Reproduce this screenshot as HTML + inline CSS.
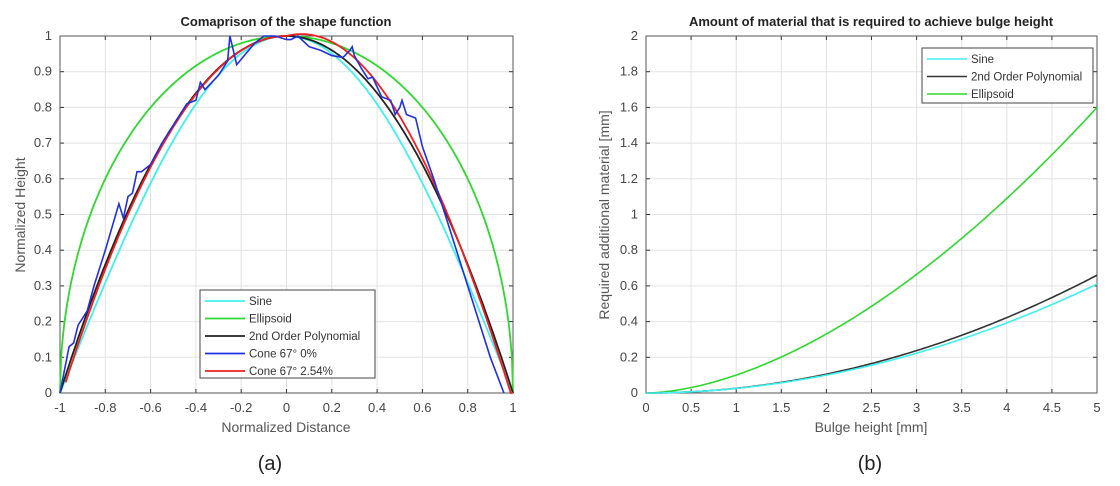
<!DOCTYPE html>
<html><head><meta charset="utf-8"><style>
body{margin:0;background:#fff;width:1120px;height:481px;overflow:hidden}
svg{font-family:"Liberation Sans",sans-serif}
</style></head><body>
<svg id="s" width="1120" height="481" xmlns="http://www.w3.org/2000/svg"></svg>
<script>
const s=document.getElementById('s');let h='';
function plot(x0,x1,y0,y1,xmin,xmax,ymin,ymax,xt,yt,xfmt){
  const X=v=>x0+(v-xmin)/(xmax-xmin)*(x1-x0),Y=v=>y1-(v-ymin)/(ymax-ymin)*(y1-y0);
  for(const v of xt){h+=`<line x1="${X(v)}" y1="${y0}" x2="${X(v)}" y2="${y1}" stroke="#e2e2e2"/>`;
    h+=`<text x="${X(v)}" y="${y1+19}" font-size="13" fill="#444" text-anchor="middle">${xfmt(v)}</text>`;
    h+=`<line x1="${X(v)}" y1="${y1}" x2="${X(v)}" y2="${y1-4}" stroke="#333"/><line x1="${X(v)}" y1="${y0}" x2="${X(v)}" y2="${y0+4}" stroke="#333"/>`;}
  for(const v of yt){h+=`<line x1="${x0}" y1="${Y(v)}" x2="${x1}" y2="${Y(v)}" stroke="#e2e2e2"/>`;
    h+=`<text x="${x0-8}" y="${Y(v)+4}" font-size="13" fill="#444" text-anchor="end">${+v.toFixed(1)}</text>`;
    h+=`<line x1="${x0}" y1="${Y(v)}" x2="${x0+4}" y2="${Y(v)}" stroke="#333"/><line x1="${x1}" y1="${Y(v)}" x2="${x1-4}" y2="${Y(v)}" stroke="#333"/>`;}
  h+=`<rect x="${x0}" y="${y0}" width="${x1-x0}" height="${y1-y0}" fill="none" stroke="#555"/>`;
  return [X,Y];
}
function line(pts,X,Y,c,w){h+=`<polyline fill="none" stroke="${c}" stroke-width="${w}" points="${pts.map(p=>X(p[0]).toFixed(1)+','+Y(p[1]).toFixed(1)).join(' ')}"/>`;}
function fn(f,a,b,n=200){const r=[];for(let i=0;i<=n;i++){const x=a+(b-a)*i/n;r.push([x,f(x)]);}return r;}
const range=(a,b,st)=>{const r=[];for(let v=a;v<=b+1e-9;v+=st)r.push(+v.toFixed(2));return r;};
// left
let [X,Y]=plot(60,513,36,393,-1,1,0,1,range(-1,1,0.2),range(0,1,0.1),v=>+v.toFixed(1));
line(fn(x=>Math.cos(Math.PI*x/2),-1,1),X,Y,'#3ff0f0',1.8);
line(fn(x=>Math.sqrt(Math.max(0,1-x*x)),-1,1,400),X,Y,'#2fd82f',1.8);
line(fn(x=>1-x*x,-1,1),X,Y,'#222',1.8);
line(fn(x=>{let y=1-(x/0.99)**2;if(x>0)y+=0.16*x*(1-x*x)*(1-x);return Math.max(0,y)},-0.975,1),X,Y,'#f02020',1.8);
const blue=[[-1,0],[-0.96,0.13],[-0.94,0.14],[-0.92,0.19],[-0.88,0.23],[-0.85,0.3],[-0.8,0.4],[-0.74,0.53],[-0.72,0.49],[-0.7,0.55],[-0.68,0.56],[-0.66,0.62],[-0.64,0.62],[-0.6,0.64],[-0.55,0.7],[-0.5,0.75],[-0.44,0.81],[-0.4,0.82],[-0.38,0.87],[-0.36,0.85],[-0.3,0.89],[-0.26,0.93],[-0.25,1.0],[-0.22,0.92],[-0.18,0.95],[-0.14,0.98],[-0.1,1.0],[-0.05,1.0],[0,0.99],[0.02,0.99],[0.05,1.0],[0.1,0.97],[0.15,0.96],[0.2,0.945],[0.25,0.94],[0.28,0.96],[0.29,0.97],[0.3,0.945],[0.33,0.91],[0.36,0.88],[0.38,0.885],[0.42,0.83],[0.46,0.82],[0.48,0.78],[0.5,0.8],[0.51,0.82],[0.53,0.78],[0.57,0.77],[0.6,0.69],[0.65,0.6],[0.7,0.5],[0.8,0.3],[0.9,0.1],[0.96,0]];
line(blue,X,Y,'#2030e0',1.6);
h+=`<text x="286" y="26" font-size="13" font-weight="bold" text-anchor="middle" fill="#222">Comaprison of the shape function</text>`;
h+=`<text x="286" y="432" font-size="14" fill="#555" text-anchor="middle">Normalized Distance</text>`;
h+=`<text transform="translate(25,215) rotate(-90)" font-size="14" fill="#555" text-anchor="middle">Normalized Height</text>`;
h+=`<rect x="200" y="290" width="175" height="88" fill="#fff" stroke="#444"/>`;
[['Sine','#3ff0f0'],['Ellipsoid','#2fd82f'],['2nd Order Polynomial','#222'],['Cone 67° 0%','#2030e0'],['Cone 67° 2.54%','#f02020']].forEach((e,i)=>{const y=301+i*17.5;
h+=`<line x1="205" y1="${y}" x2="245" y2="${y}" stroke="${e[1]}" stroke-width="1.8"/><text x="249" y="${y+4}" font-size="11.5" fill="#333">${e[0]}</text>`;});
h+=`<text x="270" y="470" font-size="20" fill="#222" text-anchor="middle">(a)</text>`;
// right
[X,Y]=plot(646,1097,36,393,0,5,0,2,range(0,5,0.5),range(0,2,0.2),v=>+v.toFixed(1));
line(fn(x=>1.6*Math.pow(x/5,1.72),0,5),X,Y,'#2fd82f',1.6);
line(fn(x=>0.66*Math.pow(x/5,2),0,5),X,Y,'#333',1.6);
line(fn(x=>0.61*Math.pow(x/5,1.97),0,5),X,Y,'#3ff0f0',1.6);
h+=`<text x="871" y="26" font-size="13" font-weight="bold" text-anchor="middle" fill="#222">Amount of material that is required to achieve bulge height</text>`;
h+=`<text x="871" y="432" font-size="14" fill="#555" text-anchor="middle">Bulge height [mm]</text>`;
h+=`<text transform="translate(609,215) rotate(-90)" font-size="14" fill="#555" text-anchor="middle">Required additional material [mm]</text>`;
h+=`<rect x="922" y="48" width="171" height="55" fill="#fff" stroke="#444"/>`;
[['Sine','#3ff0f0'],['2nd Order Polynomial','#333'],['Ellipsoid','#2fd82f']].forEach((e,i)=>{const y=59+i*17.5;
h+=`<line x1="927" y1="${y}" x2="967" y2="${y}" stroke="${e[1]}" stroke-width="1.6"/><text x="971" y="${y+4}" font-size="11.5" fill="#333">${e[0]}</text>`;});
h+=`<text x="870" y="470" font-size="20" fill="#222" text-anchor="middle">(b)</text>`;
s.innerHTML=h;
</script>
</body></html>
